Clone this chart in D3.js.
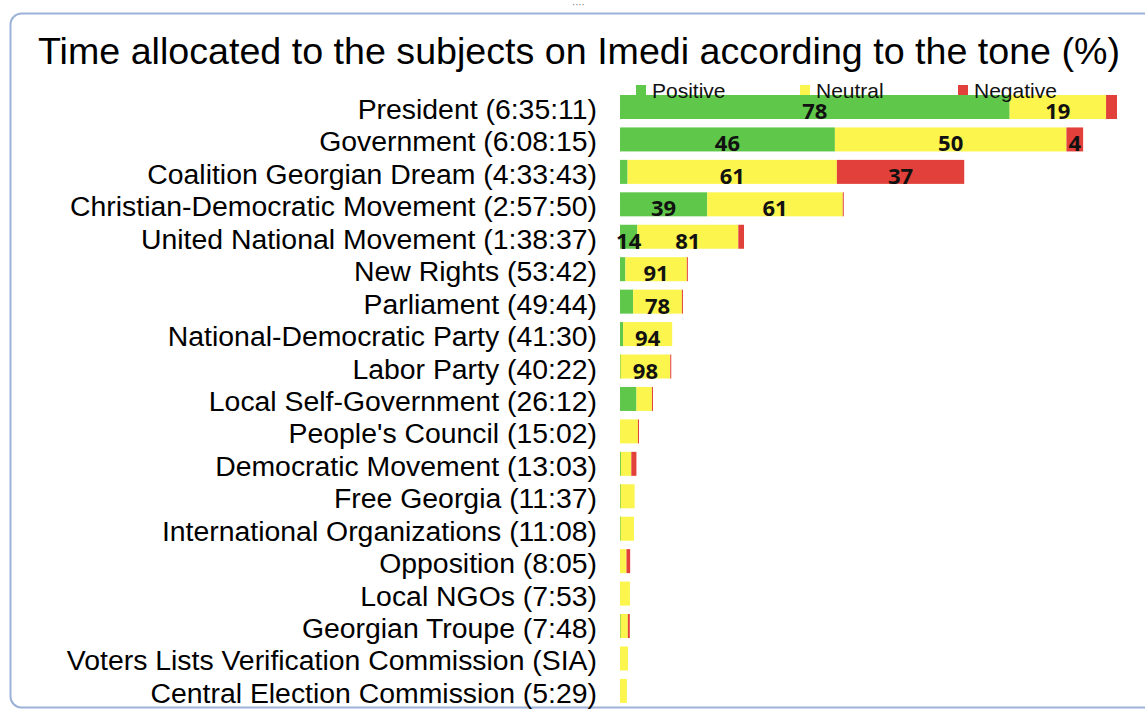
<!DOCTYPE html>
<html>
<head>
<meta charset="utf-8">
<script src="https://cdn.jsdelivr.net/npm/d3@7"></script>
<style>
  html, body { margin: 0; padding: 0; background: #fff; }
  svg { display: block; }
</style>
</head>
<body>
<svg id="chart" width="1145" height="711"></svg>
<script>
// ---- data ----
const title = "Time allocated to the subjects on Imedi according to the tone (%)";
const subjects = [
  "President", "Government", "Coalition Georgian Dream", "Christian-Democratic Movement",
  "United National Movement", "New Rights", "Parliament", "National-Democratic Party",
  "Labor Party", "Local Self-Government", "People's Council", "Democratic Movement",
  "Free Georgia", "International Organizations", "Opposition", "Local NGOs",
  "Georgian Troupe", "Voters Lists Verification Commission", "Central Election Commission"
];
const timeLabels = [
  "6:35:11", "6:08:15", "4:33:43", "2:57:50", "1:38:37", "53:42", "49:44", "41:30",
  "40:22", "26:12", "15:02", "13:03", "11:37", "11:08", "8:05", "7:53", "7:48", "SIA", "5:29"
];
// airtime in seconds (SIA)
const seconds = [
  23711, 22095, 16423, 10670, 5917, 3222, 2984, 2490,
  2422, 1572, 902, 783, 697, 668, 485, 473, 468, 380, 329
];
const positive = [78.4, 46.4, 2.2, 39, 14, 8, 21, 6, 1, 50, 0, 5, 4, 4, 0, 0, 5, 0, 0];
const neutral  = [19.4, 50, 60.8, 60.6, 81.4, 91, 78, 94, 98, 47, 95, 64, 96, 96, 64, 100, 75, 100, 100];
const negative = [2.2, 3.6, 37, 0.4, 4.6, 1, 1, 0, 1, 3, 5, 31, 0, 0, 36, 0, 20, 0, 0];
// which segment labels are displayed (P = positive, N = neutral, R = negative)
const shownLabels = ["PN", "PNR", "NR", "PN", "PN", "N", "N", "N", "N", "", "", "", "", "", "", "", "", "", ""];
const seriesNames = ["Positive", "Neutral", "Negative"];
const seriesKeys = ["P", "N", "R"];
const colors = ["#5fc84a", "#fbf54e", "#e2403a"];

// ---- layout ----
const svg = d3.select("#chart");
const x0 = 620, x1 = 1117;

// frame
svg.append("rect")
  .attr("x", 10.5).attr("y", 13.5).attr("width", 1160).attr("height", 694)
  .attr("rx", 11).attr("fill", "#fff")
  .attr("stroke", "#9db2d8").attr("stroke-width", 2);
svg.append("text").attr("x", 572).attr("y", 8).attr("font-size", 10)
  .attr("fill", "#8a8a8a").attr("font-family", "DejaVu Sans").text("····");

svg.append("text")
  .attr("x", 38).attr("y", 64)
  .attr("font-family", "Liberation Sans, Arial, sans-serif")
  .attr("font-size", 37)
  .attr("textLength", 1082).attr("lengthAdjust", "spacingAndGlyphs")
  .attr("fill", "#000")
  .text(title);

const rows = subjects.map((s, i) => ({
  name: s, label: s + " (" + timeLabels[i] + ")", secs: seconds[i],
  vals: [positive[i], neutral[i], negative[i]], shown: shownLabels[i]
}));

const x = d3.scaleLinear().domain([0, d3.max(seconds)]).range([x0, x1]);
const y = d3.scaleBand().domain(subjects).range([95, 702.9]).paddingInner(0.26).paddingOuter(0);

// stacked segments
const segs = [];
rows.forEach(r => {
  let acc = 0;
  const total = d3.sum(r.vals);
  r.vals.forEach((v, k) => {
    const a = r.secs * acc / total, b = r.secs * (acc + v) / total;
    segs.push({row: r, k, v, a, b});
    acc += v;
  });
});

svg.append("g").selectAll("rect").data(segs.filter(d => d.v > 0)).join("rect")
  .attr("x", d => x(d.a))
  .attr("y", d => y(d.row.name))
  .attr("width", d => Math.max(1, x(d.b) - x(d.a)))
  .attr("height", y.bandwidth())
  .attr("fill", d => colors[d.k]);

// category labels
svg.append("g").selectAll("text").data(rows).join("text")
  .attr("x", 597)
  .attr("y", d => y(d.name) + y.bandwidth() / 2 + 12)
  .attr("text-anchor", "end")
  .attr("font-family", "Liberation Sans, Arial, sans-serif")
  .attr("font-size", 28.4)
  .attr("fill", "#000")
  .text(d => d.label);

// legend
const legX = [636, 800, 958];
const leg = svg.append("g").selectAll("g").data(seriesNames).join("g");
leg.append("rect")
  .attr("x", (d, i) => legX[i]).attr("y", 85)
  .attr("width", 10).attr("height", 10)
  .attr("fill", (d, i) => colors[i]);
leg.append("text")
  .attr("x", (d, i) => legX[i] + 16).attr("y", 98)
  .attr("font-family", "Liberation Sans, Arial, sans-serif")
  .attr("font-size", 21)
  .attr("fill", "#111")
  .text(d => d);

// value labels
svg.append("g").selectAll("text")
  .data(segs.filter(d => d.row.shown.includes(seriesKeys[d.k])))
  .join("text")
  .attr("x", d => (x(d.a) + x(d.b)) / 2)
  .attr("y", d => y(d.row.name) + y.bandwidth())
  .attr("text-anchor", "middle")
  .attr("font-family", "Open Sans, sans-serif")
  .attr("font-weight", "bold")
  .attr("font-size", 22)
  .attr("fill", "#111")
  .text(d => Math.round(d.v));
</script>
</body>
</html>
